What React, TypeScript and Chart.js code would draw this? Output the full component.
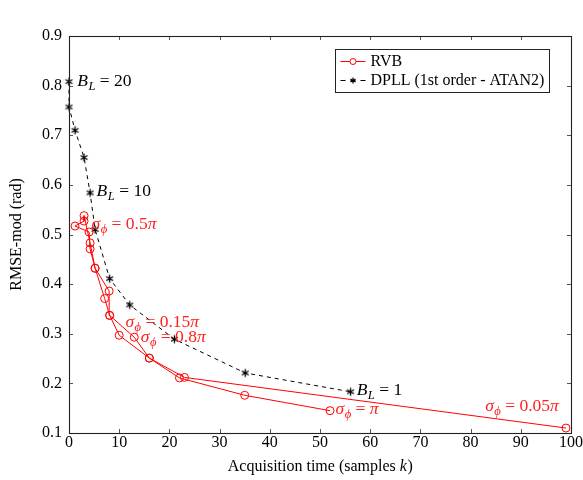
import React, { useEffect, useRef } from 'react';
import { Chart, registerables } from 'chart.js';

Chart.register(...registerables);

// ---------- data ----------
const rvbX = [99, 23, 16, 13, 8.1, 8, 5.2, 4.2, 3, 3, 1.2, 4, 4.2, 5.2, 7.1, 8.1, 10, 16, 22, 35, 52];
const rvbY = [0.11, 0.212, 0.251, 0.293, 0.337, 0.386, 0.432, 0.483, 0.538, 0.527, 0.517, 0.505, 0.471, 0.432, 0.371, 0.337, 0.297, 0.251, 0.211, 0.176, 0.145];

const dpllX = [0, 0, 1.2, 3, 4.2, 5.2, 8.1, 12.1, 21, 35.1, 56.1];
const dpllY = [0.808, 0.757, 0.71, 0.655, 0.584, 0.51, 0.411, 0.358, 0.289, 0.221, 0.183];

const xTicks = [0, 10, 20, 30, 40, 50, 60, 70, 80, 90, 100];
const yTicks = [0.1, 0.2, 0.3, 0.4, 0.5, 0.6, 0.7, 0.8, 0.9];

const seriesNames = ['RVB', 'DPLL (1st order - ATAN2)'];
const xTitleParts = [{ t: 'Acquisition time (samples ' }, { t: 'k', i: true }, { t: ')' }];
const yTitle = 'RMSE-mod (rad)';

type Part = { t: string; i?: boolean; sub?: boolean };
type Note = { x: number; y: number; color: string; parts: Part[] };

const bl = (v: string): Part[] => [{ t: 'B', i: true }, { t: 'L', i: true, sub: true }, { t: ' = ' + v }];
const sig = (v: string): Part[] => [{ t: 'σ', i: true }, { t: 'ϕ', i: true, sub: true }, { t: ' = ' + v }, { t: 'π', i: true }];
const sigPi: Part[] = [{ t: 'σ', i: true }, { t: 'ϕ', i: true, sub: true }, { t: ' = ' }, { t: 'π', i: true }];

const notes: Note[] = [
  { x: 1.65, y: 0.808, color: '#000', parts: bl('20') },
  { x: 5.5, y: 0.5875, color: '#000', parts: bl('10') },
  { x: 57.3, y: 0.185, color: '#000', parts: bl('1') },
  { x: 4.5, y: 0.521, color: '#ff2020', parts: sig('0.5') },
  { x: 11.25, y: 0.322, color: '#ff2020', parts: sig('0.15') },
  { x: 14.3, y: 0.2925, color: '#ff2020', parts: sig('0.8') },
  { x: 53.1, y: 0.148, color: '#ff2020', parts: sigPi },
  { x: 82.9, y: 0.1526, color: '#ff2020', parts: sig('0.05') },
];

const FONT = '"Liberation Serif", "DejaVu Serif", serif';
const FS = 16;
const NOTE_FS = 17.5;

function drawParts(ctx: CanvasRenderingContext2D, parts: Part[], x: number, y: number, color: string, size = FS) {
  ctx.save();
  ctx.fillStyle = color;
  ctx.textBaseline = 'middle';
  ctx.textAlign = 'left';
  let cx = x;
  for (const p of parts) {
    const fs = p.sub ? size * 0.72 : size;
    ctx.font = `${p.i ? 'italic ' : ''}${fs}px ${FONT}`;
    const dy = p.sub ? size * 0.3 : 0;
    ctx.fillText(p.t, cx, y + dy);
    cx += ctx.measureText(p.t).width + (p.i && !p.sub ? 0.5 : 0);
  }
  ctx.restore();
  return cx - x;
}

function makeAsterisk(r: number, color: string) {
  const c = document.createElement('canvas');
  const s = Math.ceil(r * 2 + 3);
  c.width = s;
  c.height = s;
  const g = c.getContext('2d')!;
  g.strokeStyle = color;
  g.lineWidth = 1.3;
  const cx = s / 2, cy = s / 2;
  g.beginPath();
  for (let k = 0; k < 3; k++) {
    const a = Math.PI / 2 + (k * Math.PI) / 3;
    g.moveTo(cx + r * Math.cos(a), cy + r * Math.sin(a));
    g.lineTo(cx - r * Math.cos(a), cy - r * Math.sin(a));
  }
  g.stroke();
  return c;
}

const framePlugin = {
  id: 'frame',
  afterDraw(chart: any) {
    const { ctx, chartArea: a, scales } = chart;
    const xs = scales.x, ys = scales.y;
    ctx.save();
    // ticks inward on four sides
    ctx.strokeStyle = '#555';
    ctx.lineWidth = 1;
    const tl = 4;
    ctx.beginPath();
    for (const v of xTicks) {
      const px = Math.round(xs.getPixelForValue(v)) + 0.5;
      ctx.moveTo(px, a.bottom);
      ctx.lineTo(px, a.bottom - tl);
      ctx.moveTo(px, a.top);
      ctx.lineTo(px, a.top + tl);
    }
    for (const v of yTicks) {
      const py = Math.round(ys.getPixelForValue(v)) + 0.5;
      ctx.moveTo(a.left, py);
      ctx.lineTo(a.left + tl, py);
      ctx.moveTo(a.right, py);
      ctx.lineTo(a.right - tl, py);
    }
    ctx.stroke();
    // box
    ctx.strokeStyle = '#222';
    ctx.lineWidth = 1.1;
    ctx.strokeRect(Math.round(a.left) + 0.5, Math.round(a.top) + 0.5, Math.round(a.right - a.left), Math.round(a.bottom - a.top));

    // annotations
    for (const n of notes) {
      drawParts(ctx, n.parts, xs.getPixelForValue(n.x), ys.getPixelForValue(n.y), n.color, NOTE_FS);
    }

    // legend
    const bx = Math.round(a.right - 236) + 0.5;
    const by = Math.round(a.top + 13) + 0.5;
    const bw = 214, bh = 43;
    ctx.fillStyle = '#fff';
    ctx.fillRect(bx, by, bw, bh);
    ctx.strokeStyle = '#222';
    ctx.lineWidth = 1;
    ctx.strokeRect(bx, by, bw, bh);
    const lx0 = bx + 5, lx1 = bx + 30, mx = bx + 17.5;
    const y1 = by + 12, y2 = by + 31;
    ctx.strokeStyle = '#ff0000';
    ctx.beginPath();
    ctx.moveTo(lx0, y1);
    ctx.lineTo(lx1, y1);
    ctx.stroke();
    ctx.beginPath();
    ctx.arc(mx, y1, 3, 0, Math.PI * 2);
    ctx.fillStyle = '#fff';
    ctx.fill();
    ctx.stroke();
    ctx.strokeStyle = '#000';
    ctx.setLineDash([5, 5]);
    ctx.beginPath();
    ctx.moveTo(lx0, y2);
    ctx.lineTo(lx1, y2);
    ctx.stroke();
    ctx.setLineDash([]);
    ctx.lineWidth = 1.2;
    ctx.beginPath();
    for (let k = 0; k < 3; k++) {
      const an = Math.PI / 2 + (k * Math.PI) / 3;
      const r = 3;
      ctx.moveTo(mx + r * Math.cos(an), y2 + r * Math.sin(an));
      ctx.lineTo(mx - r * Math.cos(an), y2 - r * Math.sin(an));
    }
    ctx.stroke();
    ctx.fillStyle = '#000';
    ctx.font = `${FS}px ${FONT}`;
    ctx.textBaseline = 'middle';
    ctx.textAlign = 'left';
    ctx.fillText(seriesNames[0], bx + 35, y1);
    ctx.fillText(seriesNames[1], bx + 35, y2);

    // axis titles
    let w = 0;
    for (const p of xTitleParts) {
      ctx.font = `${p.i ? 'italic ' : ''}${FS}px ${FONT}`;
      w += ctx.measureText(p.t).width;
    }
    drawParts(ctx, xTitleParts, (a.left + a.right) / 2 - w / 2, a.bottom + 34, '#000', FS);
    ctx.save();
    ctx.translate(17, (a.top + a.bottom) / 2);
    ctx.rotate(-Math.PI / 2);
    ctx.font = `${FS}px ${FONT}`;
    ctx.fillStyle = '#000';
    ctx.textAlign = 'center';
    ctx.textBaseline = 'middle';
    ctx.fillText(yTitle, 0, 0);
    ctx.restore();
    ctx.restore();
  },
};

export default function App() {
  const ref = useRef<HTMLCanvasElement | null>(null);
  useEffect(() => {
    if (!ref.current) return;
    const star = makeAsterisk(4, '#000');
    const chart = new Chart(ref.current, {
      type: 'line',
      data: {
        datasets: [
          {
            label: seriesNames[0],
            data: rvbX.map((x, i) => ({ x, y: rvbY[i] })),
            borderColor: '#ff0000',
            backgroundColor: 'rgba(0,0,0,0)',
            borderWidth: 1,
            pointStyle: 'circle',
            pointRadius: 4,
            pointBorderWidth: 1,
            pointBackgroundColor: 'rgba(0,0,0,0)',
            pointBorderColor: '#ff0000',
            tension: 0,
            clip: false as any,
          },
          {
            label: seriesNames[1],
            data: dpllX.map((x, i) => ({ x, y: dpllY[i] })),
            borderColor: '#000',
            backgroundColor: 'rgba(0,0,0,0)',
            borderWidth: 1,
            borderDash: [4, 4],
            pointStyle: star as any,
            pointRadius: 4,
            tension: 0,
            clip: false as any,
          },
        ],
      },
      options: {
        animation: false,
        responsive: false,
        events: [],
        layout: { padding: { top: 36, right: 10, left: 0, bottom: 0 } },
        plugins: { legend: { display: false }, tooltip: { enabled: false } },
        scales: {
          x: {
            type: 'linear',
            min: 0,
            max: 100,
            grid: { display: false, drawTicks: false },
            border: { display: false },
            ticks: { color: '#000', font: { family: FONT, size: FS }, padding: 0, maxRotation: 0, autoSkip: false },
            afterBuildTicks: (s: any) => { s.ticks = xTicks.map((v) => ({ value: v })); },
            afterFit: (s: any) => { s.height = 47; },
          },
          y: {
            type: 'linear',
            min: 0.1,
            max: 0.9,
            grid: { display: false, drawTicks: false },
            border: { display: false },
            ticks: { color: '#000', font: { family: FONT, size: FS }, padding: 7, callback: (v: any) => Number(v).toFixed(1) },
            afterBuildTicks: (s: any) => { s.ticks = yTicks.map((v) => ({ value: v })); },
            afterFit: (s: any) => { s.width = 69; },
          },
        },
      },
      plugins: [framePlugin],
    });
    return () => chart.destroy();
  }, []);
  return (
    <div style={{ position: 'absolute', left: 0, top: 0, width: 583, height: 480, background: '#fff' }}>
      <canvas ref={ref} width={583} height={480} style={{ display: 'block', width: 583, height: 480 }} />
    </div>
  );
}
